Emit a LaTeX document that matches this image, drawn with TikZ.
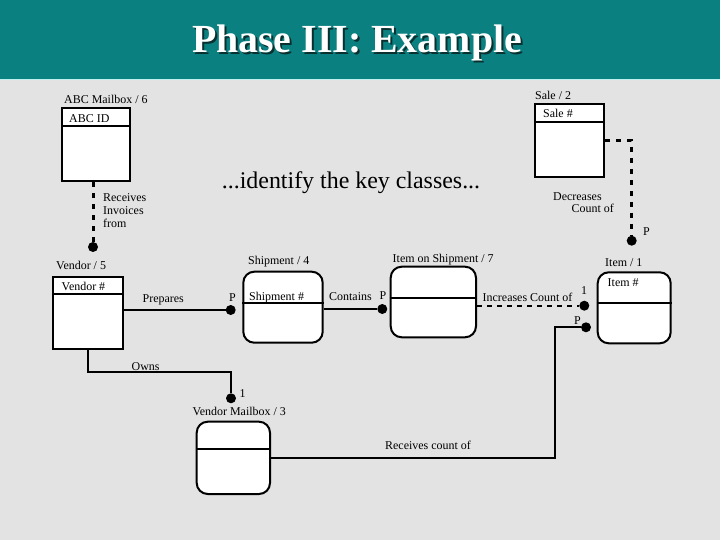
\documentclass[tikz,border=0pt]{standalone}
\usepackage{fontspec}
\setmainfont{Liberation Serif}
\definecolor{bgcol}{HTML}{E3E3E3}
\definecolor{barcol}{HTML}{0B8080}
\definecolor{barline}{HTML}{BFEFEF}
\definecolor{shadowcol}{HTML}{0A3030}
\tikzset{
  box/.style={draw, line width=2bp, fill=white, inner sep=0pt},
  rbox/.style={box, rounded corners=11bp},
  bigdot/.style={circle, fill=black, inner sep=0pt, minimum size=10bp},
  lbl/.style={font=\fontsize{12}{13}\selectfont, inner sep=0pt, anchor=west},
  conn/.style={line width=2bp},
  dconn/.style={line width=3bp, dash pattern=on 5bp off 6bp},
  divider/.style={line width=2bp},
}
\begin{document}
\begin{tikzpicture}[x=1bp,y=-1bp]
\useasboundingbox (0,0) rectangle (720,540);
\fill[bgcol] (0,0) rectangle (720,540);
\fill[barcol] (0,0) rectangle (720,79);
\fill[barline] (0,79) rectangle (720,80.5);
\node[font=\fontsize{40}{44}\selectfont\bfseries, text=shadowcol, anchor=base, inner sep=0pt] (titleshadow) at (359,55) {Phase III: Example};
\node[font=\fontsize{40}{44}\selectfont\bfseries, text=white, anchor=base, inner sep=0pt] (title) at (357,53) {Phase III: Example};

% boxes
\node[box, minimum width=68bp, minimum height=73bp] (abc) at (96,144.5) {};
\draw[divider] (abc.west |- 0,125.7) -- (abc.east |- 0,125.7);
\node[box, minimum width=69bp, minimum height=72.4bp] (sale) at (569.5,140.5) {};
\draw[divider] (sale.west |- 0,121.7) -- (sale.east |- 0,121.7);
\node[box, minimum width=69.4bp, minimum height=72.3bp] (vendor) at (88,312.85) {};
\draw[divider] (vendor.west |- 0,294.3) -- (vendor.east |- 0,294.3);
\node[rbox, minimum width=79.4bp, minimum height=71bp] (ship) at (283,307.2) {};
\draw[divider] (ship.west |- 0,303.3) -- (ship.east |- 0,303.3);
\node[rbox, minimum width=85.3bp, minimum height=70.6bp] (ios) at (433.35,302) {};
\draw[divider] (ios.west |- 0,297.7) -- (ios.east |- 0,297.7);
\node[rbox, minimum width=73bp, minimum height=71bp] (item) at (634.2,307.8) {};
\draw[divider] (item.west |- 0,303.3) -- (item.east |- 0,303.3);
\node[rbox, minimum width=73.3bp, minimum height=72.3bp] (vmb) at (233.35,457.85) {};
\draw[divider] (vmb.west |- 0,448.7) -- (vmb.east |- 0,448.7);

% dots
\node[bigdot] (abcdot) at (93,247) {};
\node[bigdot] (saledot) at (631.7,240.7) {};
\node[bigdot] (prepdot) at (230.7,310) {};
\node[bigdot] (contdot) at (382.3,309) {};
\node[bigdot] (incdot) at (584.3,305.7) {};
\node[bigdot] (recvdot) at (586,327.3) {};
\node[bigdot] (ownsdot) at (231,398.3) {};
\coordinate (ownsturn) at (88,371.7);
\coordinate (recvturn) at (555,327.3);

% connectors
\draw[dconn] (abc.south -| abcdot) -- (abcdot);
\draw[dconn] (sale.east) -| (saledot);
\draw[conn] (vendor.east |- prepdot) -- (prepdot);
\draw[conn] (ship.east |- contdot) -- (contdot);
\draw[conn, dash pattern=on 5bp off 5bp] (ios.east |- incdot) -- (incdot);
\draw[conn] (vendor.south) -- (ownsturn) -| (ownsdot);
\draw[conn] (vmb.east) -| (recvturn) -- (recvdot);

% labels
\node[lbl] (l1) at (64,99) {ABC Mailbox / 6};
\node[lbl] (l2) at (69,119) {ABC ID};
\node[lbl, align=left, font=\fontsize{12}{13}\selectfont] (l3) at (103,211) {Receives\\Invoices\\from};
\node[lbl] (l4) at (535,95) {Sale / 2};
\node[lbl] (l5) at (543,113.5) {Sale \#};
\node[lbl] (l6) at (553,197) {Decreases};
\node[lbl] (l7) at (571.5,208) {Count of};
\node[lbl] (l8) at (643,232) {P};
\node[font=\fontsize{24}{26}\selectfont, inner sep=0pt] (keytext) at (351,183) {...identify the key classes...};
\node[lbl] (l9) at (56,265) {Vendor / 5};
\node[lbl] (l10) at (61.5,286.5) {Vendor \#};
\node[lbl] (l11) at (142.5,300) {Prepares};
\node[lbl] (l12) at (229,298) {P};
\node[lbl] (l13) at (248,261.7) {Shipment / 4};
\node[lbl] (l14) at (249,297.5) {Shipment \#};
\node[lbl] (l15) at (131.5,366.5) {Owns};
\node[lbl] (l16) at (329,296.5) {Contains};
\node[lbl] (l17) at (379.5,295.5) {P};
\node[lbl] (l18) at (392.5,260) {Item on Shipment / 7};
\node[lbl] (l19) at (482.5,297.3) {Increases Count of};
\node[lbl] (l20) at (581,290.5) {1};
\node[lbl] (l21) at (574,321) {P};
\node[lbl] (l22) at (605,262.7) {Item / 1};
\node[lbl] (l23) at (607.5,282.7) {Item \#};
\node[lbl] (l24) at (239.5,394) {1};
\node[lbl, anchor=center] (l25) at (239.2,411.7) {Vendor Mailbox / 3};
\node[lbl] (l26) at (385,445.5) {Receives count of};
\end{tikzpicture}
\end{document}
